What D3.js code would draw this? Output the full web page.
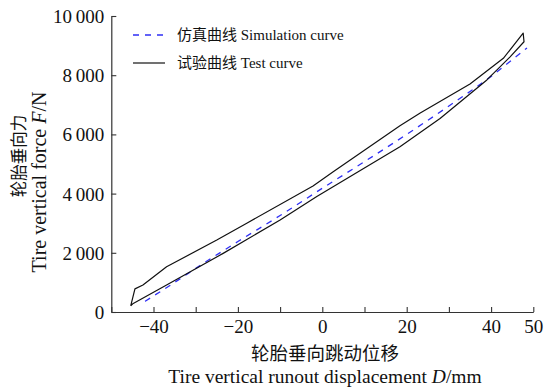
<!DOCTYPE html>
<html>
<head>
<meta charset="utf-8">
<script src="https://cdn.jsdelivr.net/npm/d3@7"></script>
<style>
  html, body { margin: 0; padding: 0; background: #fff; }
  svg { display: block; }
  .serif { font-family: "Liberation Serif", "Times New Roman", serif; }
  .cjk { font-family: "Noto Sans CJK SC", sans-serif; }
</style>
</head>
<body>
<svg id="chart" width="551" height="388"></svg>
<script>
// Simulated tire vertical force vs. displacement
const simX = [-42, -35, -28, -20, -10, 0, 10, 20, 30, 40, 45, 48.5];
const simY = [360, 1000, 1660, 2380, 3260, 4180, 5080, 6000, 6960, 7960, 8520, 8920];

// Measured loop: loading branch up to the peak, then unloading branch back down
const testX = [-45.4, -44.8, -36.9, -23.5, -10.0, -1.3, 18.4, 27.9, 39.0, 44.5, 47.8, 47.6,
               42.9, 35.0, 23.2, 18.4, 2.5, -2.2, -17.9, -25.0, -36.9, -42.5, -44.4, -45.4];
const testY = [210, 290, 910, 1980, 3110, 3900, 5580, 6540, 7840, 8620, 9130, 9420,
               8570, 7700, 6720, 6290, 4730, 4260, 3000, 2430, 1530, 910, 780, 210];

const xTicks = [-50, -40, -30, -20, -10, 0, 10, 20, 30, 40, 50];
const xTickLabels = [-40, -20, 0, 20, 40, 50];
const yTicks = [0, 2000, 4000, 6000, 8000, 10000];

const legendItems = [
  { label: "仿真曲线 Simulation curve", kind: "sim" },
  { label: "试验曲线 Test curve", kind: "test" }
];

const svg = d3.select("#chart");
const margin = { left: 111.3, right: 551 - 533.3, top: 16, bottom: 388 - 312 };
const W = 551, H = 388;

const x = d3.scaleLinear().domain([-50, 50]).range([margin.left, W - margin.right]);
const y = d3.scaleLinear().domain([0, 10000]).range([H - margin.bottom, margin.top]);

const fmt = v => d3.format(",")(v).replace(/,/g, "\u2009");
const minus = v => (v < 0 ? "\u2212" + Math.abs(v) : String(v));

// X axis: ticks point up into the plot
const xAxis = d3.axisBottom(x)
  .tickValues(xTicks)
  .tickSizeInner(-5)
  .tickSizeOuter(0)
  .tickFormat(d => xTickLabels.includes(d) ? minus(d) : "");
const gx = svg.append("g")
  .attr("transform", `translate(0,${y(0)})`)
  .call(xAxis);
gx.selectAll("text")
  .attr("class", "serif")
  .attr("font-size", 19)
  .attr("fill", "#111")
  .attr("y", 8)
  .attr("dy", "0.71em");

// Y axis: ticks point right into the plot
const yAxis = d3.axisLeft(y)
  .tickValues(yTicks)
  .tickSizeInner(-5)
  .tickSizeOuter(0)
  .tickFormat(fmt);
const gy = svg.append("g")
  .attr("transform", `translate(${x(-50)},0)`)
  .call(yAxis);
gy.selectAll("text")
  .attr("class", "serif")
  .attr("font-size", 19)
  .attr("fill", "#111")
  .attr("x", -7)
  .attr("dy", "0.34em");

[gx, gy].forEach(g => {
  g.attr("font-family", null).attr("font-size", null);
  g.selectAll(".domain").attr("stroke", "#333").attr("stroke-width", 1.2);
  g.selectAll(".tick line").attr("stroke", "#333").attr("stroke-width", 1.1);
});

// Curves
const line = d3.line().x(d => x(d[0])).y(d => y(d[1]));
const simPts = simX.map((v, i) => [v, simY[i]]);
const testPts = testX.map((v, i) => [v, testY[i]]);

svg.append("path")
  .attr("d", line.curve(d3.curveMonotoneX)(simPts))
  .attr("fill", "none")
  .attr("stroke", "#2f2ff5")
  .attr("stroke-width", 1.3)
  .attr("stroke-dasharray", "6,6");

svg.append("path")
  .attr("d", line.curve(d3.curveLinear)(testPts))
  .attr("fill", "none")
  .attr("stroke", "#111")
  .attr("stroke-width", 1.2)
  .attr("stroke-linejoin", "round");

// Legend
const lg = svg.append("g").attr("transform", "translate(133,35)");
legendItems.forEach((it, i) => {
  const row = lg.append("g").attr("transform", `translate(0,${i * 28})`);
  row.append("line")
    .attr("x1", 0).attr("x2", 32).attr("y1", 0).attr("y2", 0)
    .attr("stroke", it.kind === "sim" ? "#2f2ff5" : "#111")
    .attr("stroke-width", it.kind === "sim" ? 1.3 : 1.2)
    .attr("stroke-dasharray", it.kind === "sim" ? "6,6" : null);
  const t = row.append("text")
    .attr("x", 44).attr("y", 0).attr("dy", "0.35em")
    .attr("font-size", 15).attr("fill", "#111");
  const parts = it.label.split(" ");
  t.append("tspan").attr("class", "cjk").text(parts[0]);
  t.append("tspan").attr("class", "serif").text(" " + parts.slice(1).join(" "));
});

// X axis title
svg.append("text")
  .attr("class", "cjk")
  .attr("x", 325).attr("y", 352)
  .attr("text-anchor", "middle")
  .attr("dominant-baseline", "central")
  .attr("font-size", 18.5).attr("fill", "#111")
  .text("轮胎垂向跳动位移");
const xt = svg.append("text")
  .attr("class", "serif")
  .attr("x", 325).attr("y", 383)
  .attr("text-anchor", "middle")
  .attr("font-size", 19.5).attr("fill", "#111");
xt.append("tspan").text("Tire vertical runout displacement ");
xt.append("tspan").attr("font-style", "italic").text("D");
xt.append("tspan").text("/mm");

// Y axis title
svg.append("text")
  .attr("class", "cjk")
  .attr("transform", "translate(18,156) rotate(-90)")
  .attr("text-anchor", "middle")
  .attr("dominant-baseline", "central")
  .attr("font-size", 16.5).attr("fill", "#111")
  .text("轮胎垂向力");
const yt = svg.append("text")
  .attr("class", "serif")
  .attr("transform", "translate(46,182) rotate(-90)")
  .attr("text-anchor", "middle")
  .attr("font-size", 20).attr("fill", "#111");
yt.append("tspan").text("Tire vertical force ");
yt.append("tspan").attr("font-style", "italic").text("F");
yt.append("tspan").text("/N");
</script>
</body>
</html>
